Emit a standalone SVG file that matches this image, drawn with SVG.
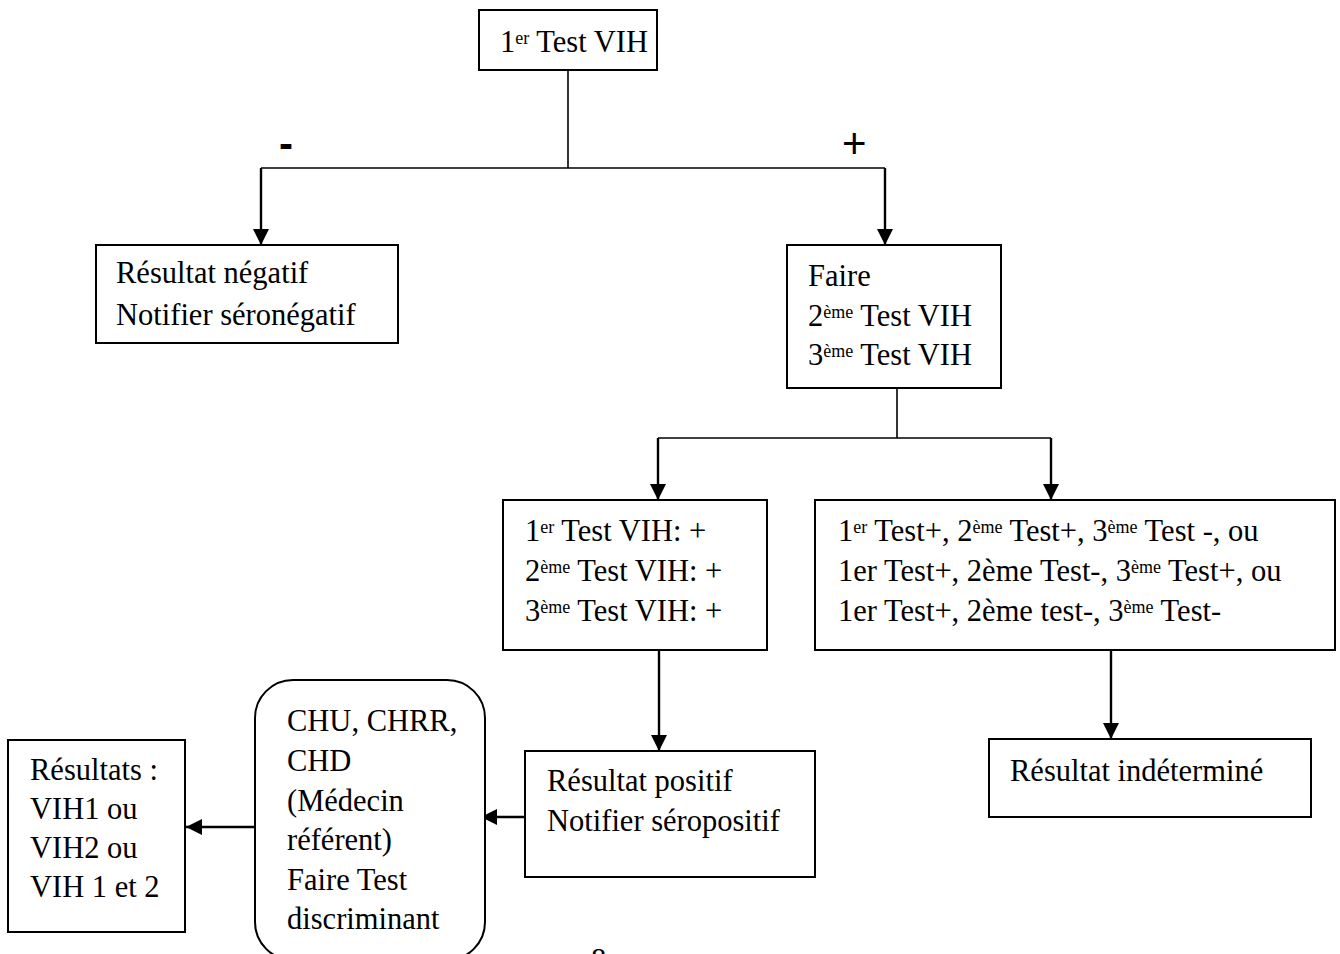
<svg xmlns="http://www.w3.org/2000/svg" width="1340" height="954" viewBox="0 0 1340 954">
  <style>
    .box { fill: #fff; stroke: #000; stroke-width: 2; }
    .t { font-family: "Liberation Serif", "Times New Roman", serif; font-size: 30.5px; fill: #000; }
    .sup { font-size: 18px; }
    .sign { font-family: "Liberation Sans", Arial, sans-serif; font-size: 42px; fill: #000; }
    .wire { fill: none; stroke: #000; stroke-width: 1.6; }
    .arrow { fill: none; stroke: #000; stroke-width: 2.4; marker-end: url(#head); }
  </style>
  <defs>
    <marker id="head" markerUnits="userSpaceOnUse" markerWidth="16" markerHeight="16" viewBox="0 0 16 16" refX="16" refY="8" orient="auto">
      <path d="M0,0 L16,8 L0,16 z" fill="#000"/>
    </marker>
  </defs>

  <rect width="1340" height="954" fill="#fff"/>

  <!-- connectors -->
  <g id="connectors">
    <path class="wire" d="M568,70 V168"/>
    <path class="wire" d="M261,168 H885"/>
    <path class="arrow" d="M261,168 V245"/>
    <path class="arrow" d="M885,168 V245"/>
    <path class="wire" d="M897,388 V438"/>
    <path class="wire" d="M658,438 H1051"/>
    <path class="arrow" d="M658,438 V500"/>
    <path class="arrow" d="M1051,438 V500"/>
    <path class="arrow" d="M659,650 V751"/>
    <path class="arrow" d="M1111,650 V739"/>
    <path class="arrow" d="M525,817 H481"/>
    <path class="arrow" d="M261,827 H186"/>
    <text class="sign" x="279" y="158" font-weight="bold">-</text>
    <text class="sign" x="842" y="158">+</text>
  </g>

  <g id="test1">
    <rect class="box" x="479" y="10" width="178" height="60"/>
    <text class="t" x="500" y="52">1<tspan class="sup" dy="-8">er</tspan><tspan dy="8"> Test VIH</tspan></text>
  </g>

  <g id="negatif">
    <rect class="box" x="96" y="245" width="302" height="98"/>
    <text class="t" x="116" y="283">Résultat négatif</text>
    <text class="t" x="116" y="325">Notifier séronégatif</text>
  </g>

  <g id="faire">
    <rect class="box" x="787" y="245" width="214" height="143"/>
    <text class="t" x="808" y="286">Faire</text>
    <text class="t" x="808" y="326">2<tspan class="sup" dy="-8">ème</tspan><tspan dy="8"> Test VIH</tspan></text>
    <text class="t" x="808" y="365">3<tspan class="sup" dy="-8">ème</tspan><tspan dy="8"> Test VIH</tspan></text>
  </g>

  <g id="tous-positifs">
    <rect class="box" x="503" y="500" width="264" height="150"/>
    <text class="t" x="525" y="541">1<tspan class="sup" dy="-8">er</tspan><tspan dy="8"> Test VIH: +</tspan></text>
    <text class="t" x="525" y="581">2<tspan class="sup" dy="-8">ème</tspan><tspan dy="8"> Test VIH: +</tspan></text>
    <text class="t" x="525" y="621">3<tspan class="sup" dy="-8">ème</tspan><tspan dy="8"> Test VIH:  +</tspan></text>
  </g>

  <g id="discordants">
    <rect class="box" x="815" y="500" width="520" height="150"/>
    <text class="t" x="838" y="541">1<tspan class="sup" dy="-8">er</tspan><tspan dy="8"> Test+, 2</tspan><tspan class="sup" dy="-8">ème</tspan><tspan dy="8"> Test+, 3</tspan><tspan class="sup" dy="-8">ème</tspan><tspan dy="8"> Test -, ou</tspan></text>
    <text class="t" x="838" y="581">1er Test+, 2ème Test-, 3<tspan class="sup" dy="-8">ème</tspan><tspan dy="8"> Test+, ou</tspan></text>
    <text class="t" x="838" y="621">1er Test+, 2ème test-, 3<tspan class="sup" dy="-8">ème</tspan><tspan dy="8"> Test-</tspan></text>
  </g>

  <g id="positif">
    <rect class="box" x="525" y="751" width="290" height="126"/>
    <text class="t" x="547" y="791">Résultat positif</text>
    <text class="t" x="547" y="831">Notifier séropositif</text>
  </g>

  <g id="indetermine">
    <rect class="box" x="989" y="739" width="322" height="78"/>
    <text class="t" x="1010" y="781">Résultat indéterminé</text>
  </g>

  <g id="referent">
    <rect class="box" x="255" y="680" width="230" height="280" rx="38" ry="38"/>
    <text class="t" x="287" y="731">CHU, CHRR,</text>
    <text class="t" x="287" y="771">CHD</text>
    <text class="t" x="287" y="811">(Médecin</text>
    <text class="t" x="287" y="850">référent)</text>
    <text class="t" x="287" y="890">Faire Test</text>
    <text class="t" x="287" y="929">discriminant</text>
  </g>

  <g id="resultats">
    <rect class="box" x="8" y="740" width="177" height="192"/>
    <text class="t" x="30" y="780">Résultats :</text>
    <text class="t" x="30" y="819">VIH1 ou</text>
    <text class="t" x="30" y="858">VIH2 ou</text>
    <text class="t" x="30" y="897">VIH 1 et 2</text>
  </g>

  <!-- page number, mostly below the page edge -->
  <text class="t" x="591" y="970">8</text>
</svg>
